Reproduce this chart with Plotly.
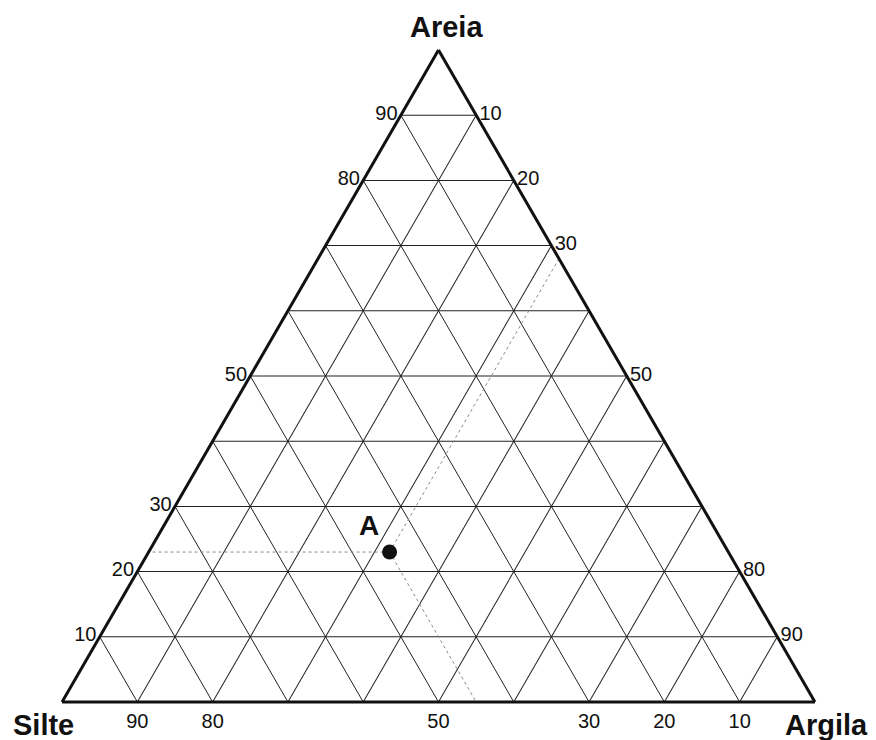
import plotly.graph_objects as go

# Soil texture triangle: sand (Areia), silt (Silte), clay (Argila), in percent
grid_vals = [10, 20, 30, 40, 50, 60, 70, 80, 90]
areia_ticktext = ["10", "20", "30", "", "50", "", "", "80", "90"]
silte_ticktext = ["10", "20", "30", "", "50", "", "", "80", "90"]
argila_ticktext = ["10", "20", "30", "", "50", "", "", "80", "90"]

# Sample A composition
sample_label = ["<b>A</b>"]
sample_areia = [23]
sample_silte = [45]
sample_argila = [32]

FONT = "Liberation Sans, Arial, sans-serif"

a0, b0, c0 = sample_areia[0], sample_silte[0], sample_argila[0]

fig = go.Figure()

# Guide lines from the sample to each side of the triangle
guides = [
    ([a0, a0], [b0, 100 - a0], [c0, 0]),          # constant sand -> left side
    ([a0, 100 - c0], [b0, 0], [c0, c0]),          # constant clay -> right side
    ([a0, 0], [b0, b0], [c0, 100 - b0]),          # constant silt -> base
]
for ga, gb, gc in guides:
    fig.add_trace(go.Scatterternary(
        a=ga, b=gb, c=gc, mode="lines",
        line=dict(color="#8a8a8a", width=1, dash="dot"),
        hoverinfo="skip", showlegend=False,
    ))

fig.add_trace(go.Scatterternary(
    a=sample_areia, b=sample_silte, c=sample_argila,
    mode="markers+text", text=sample_label, textposition="top left",
    textfont=dict(family=FONT, size=28, color="#111"),
    marker=dict(size=15, color="#111"),
    showlegend=False,
))

axis_common = dict(
    title=dict(text=""),
    tickmode="array", tickvals=grid_vals, ticks="",
    showgrid=True, gridcolor="#222", gridwidth=1,
    showline=True, linecolor="#111", linewidth=3,
    tickfont=dict(family=FONT, size=20, color="#111"),
    min=0,
)

title_font = dict(family=FONT, size=29, color="#111")

fig.update_layout(
    width=876, height=740,
    margin=dict(l=62, r=61, t=50, b=38),
    paper_bgcolor="white",
    ternary=dict(
        sum=100,
        bgcolor="white",
        aaxis=dict(ticktext=areia_ticktext, **axis_common),
        baxis=dict(ticktext=silte_ticktext, **axis_common),
        caxis=dict(ticktext=argila_ticktext, **axis_common),
    ),
    font=dict(family=FONT, color="#111"),
    annotations=[
        dict(text="<b>Areia</b>", x=0.51, y=1.036, xref="paper", yref="paper",
             xanchor="center", yanchor="middle", showarrow=False, font=title_font),
        dict(text="<b>Silte</b>", x=-0.024, y=-0.036, xref="paper", yref="paper",
             xanchor="center", yanchor="middle", showarrow=False, font=title_font),
        dict(text="<b>Argila</b>", x=1.015, y=-0.036, xref="paper", yref="paper",
             xanchor="center", yanchor="middle", showarrow=False, font=title_font),
    ],
)

fig.write_html("out.html")
